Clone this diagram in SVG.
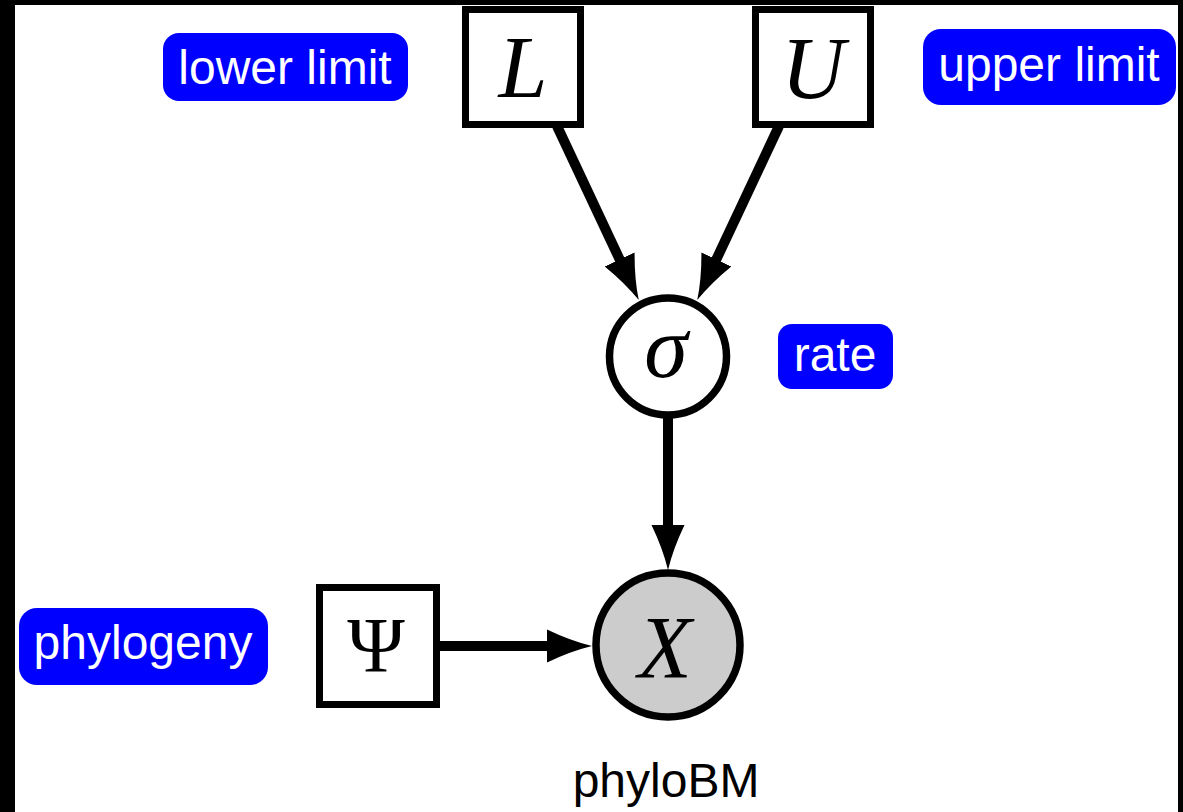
<svg xmlns="http://www.w3.org/2000/svg" width="1183" height="812" viewBox="0 0 1183 812">
<style>
.lbl{fill:#0000ff}
.lt{font-family:"Liberation Sans",Arial,sans-serif;font-size:48px;fill:#ffffff;text-anchor:middle}
.cap{font-family:"Liberation Sans",Arial,sans-serif;font-size:48px;fill:#000000;text-anchor:middle}
.box{fill:#ffffff;stroke:#000000;stroke-width:7}
.circ{stroke:#000000;stroke-width:7.5}
.math{font-family:"Liberation Serif","Times New Roman",serif;font-style:italic;font-size:88px;fill:#000000;text-anchor:middle}
.up{font-family:"Liberation Serif","Times New Roman",serif;font-size:78px;fill:#000000;text-anchor:middle}
.edge{stroke:#000000;stroke-width:10;fill:none;marker-end:url(#arr)}
</style>
<defs>
<marker id="arr" markerUnits="userSpaceOnUse" markerWidth="50" markerHeight="40" viewBox="0 -20 50 40" refX="2" refY="0" orient="auto">
<path d="M0,-16.5 Q24,-5 45,0 Q24,5 0,16.5 Z" fill="#000000"/>
</marker>
</defs>
<rect x="0" y="0" width="1183" height="812" fill="#000000"/>
<rect x="15" y="5" width="1163" height="807" fill="#ffffff"/>
<g id="connectors">
<line class="edge" x1="557" y1="126" x2="620.5" y2="261.2"/>
<line class="edge" x1="779" y1="126" x2="715.5" y2="261.2"/>
<line class="edge" x1="668" y1="416" x2="668" y2="527"/>
<line class="edge" x1="438" y1="646" x2="549" y2="646"/>
</g>
<g id="lower-limit-label">
<rect class="lbl" x="163" y="33" width="245" height="68" rx="16"/>
<text class="lt" x="285" y="84">lower limit</text>
</g>
<g id="upper-limit-label">
<rect class="lbl" x="923" y="29" width="253" height="76" rx="18"/>
<text class="lt" x="1049" y="81">upper limit</text>
</g>
<g id="rate-label">
<rect class="lbl" x="778" y="324" width="115" height="65" rx="14"/>
<text class="lt" x="835" y="371">rate</text>
</g>
<g id="phylogeny-label">
<rect class="lbl" x="19" y="608" width="249" height="77" rx="18"/>
<text class="lt" x="143" y="659">phylogeny</text>
</g>
<g id="node-L">
<rect class="box" x="465.5" y="9.5" width="115" height="115"/>
<text class="math" x="523" y="97">L</text>
</g>
<g id="node-U">
<rect class="box" x="755.5" y="9.5" width="115" height="115"/>
<text class="math" x="813" y="98">U</text>
</g>
<g id="node-sigma">
<circle class="circ" cx="668" cy="356.5" r="58.5" fill="#ffffff"/>
<text class="math" x="666" y="377">σ</text>
</g>
<g id="node-X">
<circle class="circ" cx="668" cy="645" r="72" fill="#cccccc"/>
<text class="math" x="665" y="677">X</text>
</g>
<g id="node-Psi">
<rect class="box" x="319.5" y="587.5" width="117" height="117"/>
<text class="up" x="376" y="671">Ψ</text>
</g>
<g id="caption">
<text class="cap" x="666" y="797">phyloBM</text>
</g>
</svg>
